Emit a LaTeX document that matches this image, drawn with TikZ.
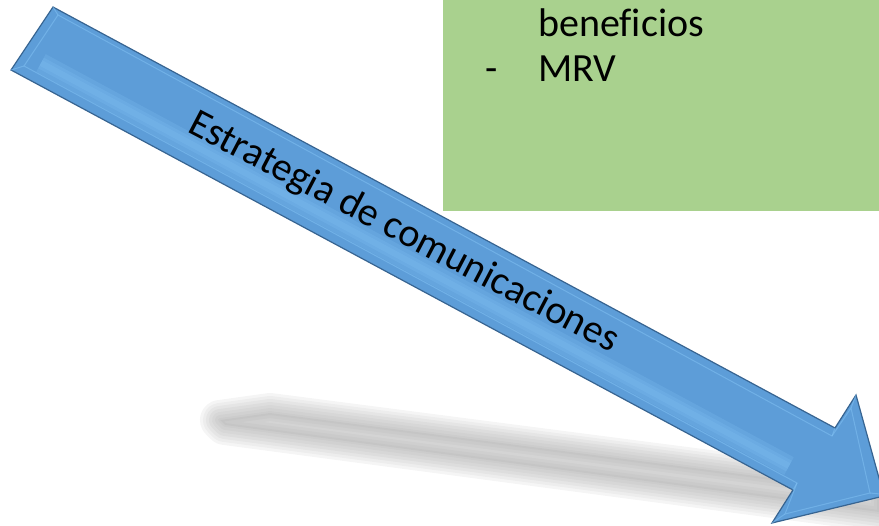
\documentclass[tikz,border=0pt]{standalone}
\usepackage{fontspec}
\setmainfont{Carlito}[Ligatures=NoCommon]
\definecolor{arrowblue}{RGB}{93,157,216}
\definecolor{arrowlight}{RGB}{132,196,245}
\definecolor{arrowedge}{RGB}{55,100,145}
\definecolor{boxgreen}{RGB}{169,209,142}
\begin{document}
\begin{tikzpicture}[x=1pt,y=1pt]
\tikzstyle{every node}+=[inner sep=0pt]
\tikzstyle{bigtext}=[font=\fontsize{40}{48}\selectfont, anchor=base west]
\tikzstyle{bevel}=[arrowlight, line width=1, opacity=0.5]
\useasboundingbox (0,0) rectangle (879,-526);
\fill [boxgreen] (443,0) rectangle (879,-211);
\node [bigtext] (benef) at (538,-37) {beneficios};
\node [bigtext] (dash) at (485,-82) {-};
\node [bigtext] (mrv) at (538,-82) {MRV};
\foreach \w in {40,34,28,22,16,10,4}
  \draw [gray!75, opacity=0.1, line width=\w, line join=round, line cap=round] (220,-420) -- (270,-413) -- (879,-492) -- (879,-512) -- (225,-425) -- cycle;
\fill [gray!75, opacity=0.15] (220,-420) -- (270,-413) -- (879,-492) -- (879,-512) -- (225,-425) -- cycle;
\filldraw [fill=arrowblue, draw=arrowedge, line width=1.2] (53,-7) -- (835,-428) -- (856,-395) -- (884,-496) -- (772,-523) -- (793,-490) -- (11,-70) -- cycle;
\foreach \w in {20,12,6}
  \draw [arrowlight, opacity=0.22, line width=\w] (41,-63) -- (789,-466);
\draw [bevel] (58,-15) -- (832,-436) -- (851,-408) -- (870,-493) -- (785,-514) -- (797,-483) -- (24,-66) -- cycle;
\draw [bevel] (53,-7) -- (58,-15);
\draw [bevel] (11,-70) -- (24,-66);
\draw [bevel] (835,-428) -- (832,-436);
\draw [bevel] (856,-395) -- (851,-408);
\draw [bevel] (880,-494) -- (870,-493);
\draw [bevel] (772,-523) -- (785,-514);
\draw [bevel] (793,-490) -- (797,-483);
\node [bigtext, font=\fontsize{40}{48}\selectfont, rotate=-27.6] (strat) at (186,-131) {Estrategia de comunicaciones};
\end{tikzpicture}
\end{document}
